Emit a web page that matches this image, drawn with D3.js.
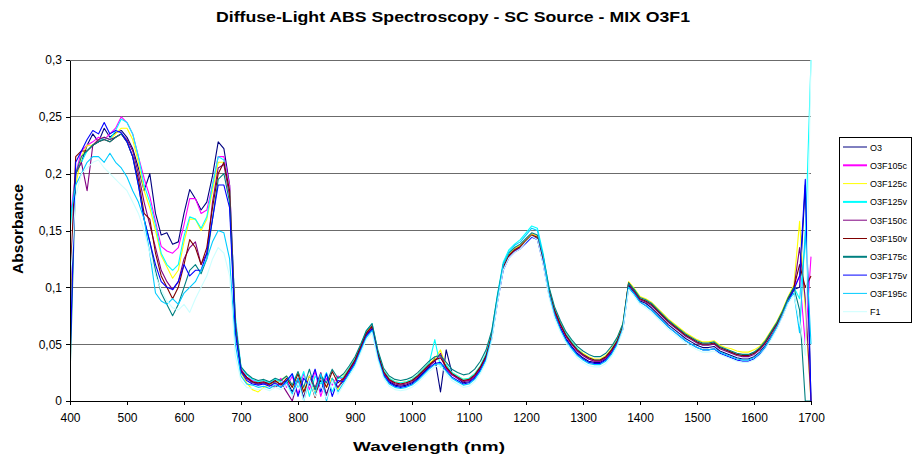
<!DOCTYPE html>
<html>
<head>
<meta charset="utf-8">
<script src="https://cdn.jsdelivr.net/npm/d3@7"></script>
<style>
  body { margin: 0; background: #fff; }
  svg { display: block; font-family: Arial, "Liberation Sans", sans-serif; }
</style>
</head>
<body>
<div id="chart"></div>
<script>
// wavelength grid (nm)
const wavelengths = [
  400,410,420,430,440,450,460,470,480,490,500,510,520,530,540,550,560,570,580,590,
  600,610,620,630,640,650,660,670,680,690,700,710,720,730,740,750,760,770,780,790,
  800,810,820,830,840,850,860,870,880,890,900,910,920,930,940,950,960,970,980,990,
  1000,1010,1020,1030,1040,1050,1060,1070,1080,1090,1100,1110,1120,1130,1140,1150,1160,1170,1180,1190,
  1200,1210,1220,1230,1240,1250,1260,1270,1280,1290,1300,1310,1320,1330,1340,1350,1360,1370,1380,1390,
  1400,1410,1420,1430,1440,1450,1460,1470,1480,1490,1500,1510,1520,1530,1540,1550,1560,1570,1580,1590,
  1600,1610,1620,1630,1640,1650,1660,1670,1680,1690,1700
];

const O3 = [
  .08,.2,.21,.225,.235,.228,.24,.232,.236,.238, .232,.222,.205,.185,.2,.165,.146,.148,.138,.14,
  .165,.186,.178,.168,.175,.198,.228,.222,.19,.07,
  .028,.02,.017,.015,.016,.014,.017,.015,.018,.008, .02,.003,.022,.01,.018,.006,.02,.012,.018,.026,
  .034,.046,.058,.064,.04,.024,.017,.014,.013,.014, .016,.02,.025,.03,.038,.008,.045,.025,.02,.016,
  .017,.021,.028,.038,.056,.088,.116,.127,.132,.135, .14,.145,.143,.122,.095,.077,.065,.055,.048,.042,
  .038,.035,.034,.034,.037,.043,.051,.064,.102,.095, .088,.086,.082,.077,.072,.067,.063,.059,.055,.052,
  .049,.047,.047,.048,.044,.042,.04,.038,.037,.037, .039,.043,.049,.057,.065,.075,.087,.098,.1,.19,0
];
const O3F105c = [
  .16,.2,.22,.225,.228,.232,.23,.235,.24,.25, .245,.235,.215,.196,.18,.158,.136,.132,.13,.135,
  .155,.178,.178,.165,.168,.19,.215,.215,.19,.07,
  .028,.021,.018,.017,.016,.017,.015,.02,.012,.022, .006,.024,.01,.026,.004,.02,.014,.022,.018,.027,
  .035,.047,.06,.067,.043,.025,.018,.016,.015,.016, .018,.022,.027,.032,.035,.04,.028,.023,.02,.018,
  .018,.022,.029,.039,.057,.09,.118,.128,.134,.137, .142,.147,.145,.124,.097,.079,.067,.057,.05,.044,
  .04,.037,.035,.035,.038,.044,.053,.066,.104,.097, .09,.088,.085,.08,.075,.07,.066,.062,.058,.055,
  .052,.05,.05,.051,.047,.045,.043,.041,.04,.04, .042,.046,.052,.06,.068,.078,.09,.1,.11,.05,.127
];
const O3F125c = [
  .08,.19,.215,.225,.225,.23,.232,.23,.235,.24, .24,.23,.21,.185,.17,.15,.128,.118,.108,.115,
  .14,.16,.16,.15,.16,.185,.21,.21,.185,.07,
  .025,.016,.01,.008,.012,.014,.016,.018,.022,.012, .025,.008,.022,.006,.024,.012,.02,.01,.022,.029,
  .037,.049,.061,.066,.043,.027,.02,.017,.016,.017, .019,.023,.028,.033,.037,.045,.03,.025,.022,.019,
  .02,.024,.031,.041,.059,.091,.119,.129,.134,.137, .142,.147,.145,.126,.099,.081,.069,.059,.052,.046,
  .042,.039,.037,.037,.04,.046,.055,.068,.105,.099, .092,.09,.087,.082,.077,.072,.068,.064,.06,.057,
  .054,.052,.052,.053,.049,.047,.046,.044,.043,.043, .045,.048,.054,.062,.07,.08,.092,.102,.158,.08,0
];
const O3F125v = [
  .15,.2,.21,.22,.225,.228,.232,.23,.238,.248, .245,.235,.215,.19,.175,.155,.13,.12,.115,.12,
  .145,.162,.16,.152,.162,.19,.215,.212,.185,.075,
  .03,.023,.019,.017,.018,.016,.019,.017,.016,.024, .012,.026,.004,.022,.015,.025,.008,.02,.021,.029,
  .037,.049,.062,.068,.044,.027,.02,.017,.016,.017, .019,.023,.028,.033,.054,.03,.032,.025,.022,.019,
  .02,.024,.031,.042,.061,.094,.122,.133,.138,.142, .148,.154,.152,.13,.1,.081,.069,.059,.052,.046,
  .041,.038,.036,.036,.039,.045,.054,.067,.103,.098, .09,.088,.085,.08,.075,.07,.066,.062,.058,.055,
  .052,.05,.05,.051,.047,.045,.043,.041,.04,.04, .042,.046,.052,.06,.068,.078,.09,.1,.09,.14,.3
];
const O3F150c = [
  .09,.2,.21,.185,.225,.23,.232,.23,.232,.235, .23,.22,.2,.175,.155,.135,.115,.105,.098,.105,
  .125,.135,.14,.12,.13,.175,.205,.208,.18,.07,
  .026,.02,.016,.015,.016,.014,.012,.016,.008,0, .018,.002,.02,.012,.025,.005,.018,.012,.019,.027,
  .035,.047,.059,.065,.041,.025,.018,.015,.014,.015, .017,.021,.026,.031,.035,.042,.029,.023,.02,.017,
  .018,.022,.029,.039,.057,.089,.117,.127,.132,.135, .14,.145,.143,.124,.097,.079,.067,.057,.05,.044,
  .04,.037,.035,.035,.038,.044,.052,.065,.103,.096, .089,.087,.084,.079,.074,.069,.065,.061,.057,.054,
  .051,.049,.049,.05,.046,.044,.042,.04,.039,.039, .041,.045,.051,.059,.067,.077,.089,.099,.135,.09,0
];
const O3F150v = [
  .1,.215,.22,.22,.225,.228,.23,.228,.232,.235, .228,.215,.195,.165,.16,.13,.11,.1,.09,.1,
  .12,.142,.135,.12,.135,.17,.2,.21,.185,.065,
  .027,.021,.017,.016,.017,.015,.018,.014,.02,.012, .024,.008,.02,.003,.022,.012,.026,.016,.02,.028,
  .036,.048,.06,.066,.042,.026,.019,.016,.015,.016, .018,.022,.027,.032,.036,.038,.03,.024,.021,.018,
  .019,.023,.03,.04,.058,.09,.118,.128,.133,.136, .141,.146,.144,.125,.098,.08,.068,.058,.051,.045,
  .041,.038,.036,.036,.039,.045,.053,.066,.104,.097, .09,.088,.085,.08,.075,.07,.066,.062,.058,.055,
  .052,.05,.05,.051,.047,.045,.043,.041,.04,.04, .042,.046,.052,.06,.068,.078,.09,.1,.12,.1,.11
];
const O3F175c = [
  .02,.2,.215,.22,.225,.228,.23,.228,.232,.235, .228,.215,.19,.16,.14,.115,.095,.085,.075,.085,
  .1,.115,.12,.112,.125,.16,.195,.2,.175,.065,
  .03,.024,.02,.018,.019,.017,.02,.018,.022,.014, .026,.012,.028,.01,.022,.016,.028,.02,.024,.031,
  .039,.05,.062,.068,.045,.029,.022,.019,.018,.019, .021,.025,.03,.035,.039,.04,.034,.028,.025,.023,
  .024,.028,.035,.045,.062,.093,.12,.13,.135,.138, .143,.148,.146,.128,.101,.083,.071,.061,.054,.048,
  .044,.041,.039,.039,.042,.048,.056,.068,.104,.098, .091,.089,.086,.081,.076,.071,.067,.063,.059,.056,
  .053,.051,.051,.052,.048,.046,.044,.042,.041,.041, .043,.047,.053,.061,.069,.079,.091,.1,.08,0,0
];
const O3F175v = [
  .035,.21,.22,.23,.238,.235,.245,.235,.238,.236, .228,.215,.19,.16,.14,.12,.105,.1,.098,.105,
  .12,.11,.115,.115,.13,.16,.19,.19,.17,.06,
  .026,.018,.015,.014,.015,.013,.016,.012,.018,.024, .004,.02,.014,.028,.008,.024,.004,.018,.017,.025,
  .033,.045,.057,.063,.039,.023,.016,.013,.012,.013, .015,.019,.024,.029,.033,.034,.027,.021,.018,.015,
  .016,.02,.027,.037,.055,.087,.115,.126,.131,.134, .139,.144,.142,.121,.094,.076,.064,.054,.047,.041,
  .037,.034,.033,.033,.036,.042,.05,.063,.1,.094, .087,.084,.08,.075,.07,.065,.061,.057,.053,.05,
  .047,.045,.045,.046,.042,.04,.038,.036,.035,.035, .037,.041,.047,.055,.064,.075,.088,.098,.11,.195,0
];
const O3F195c = [
  .16,.19,.2,.21,.215,.215,.21,.218,.21,.205, .197,.185,.175,.16,.13,.095,.088,.085,.09,.085,
  .095,.1,.105,.115,.125,.14,.15,.148,.125,.05,
  .022,.015,.014,.012,.013,.011,.014,.012,.016,.006, .02,0,.018,.006,.024,0,.02,.008,.016,.024,
  .032,.044,.056,.062,.038,.022,.015,.012,.011,.012, .014,.018,.023,.028,.032,.033,.026,.02,.017,.014,
  .015,.019,.026,.036,.056,.09,.12,.131,.137,.14, .146,.152,.15,.128,.096,.076,.063,.053,.046,.04,
  .036,.033,.032,.032,.035,.041,.05,.064,.1,.094, .087,.084,.08,.075,.07,.065,.061,.057,.053,.05,
  .047,.045,.045,.046,.043,.041,.039,.037,.036,.036, .038,.042,.048,.056,.065,.076,.088,.095,.06,.15,.05
];
const F1 = [
  .1,.18,.2,.205,.21,.212,.205,.2,.195,.19, .185,.175,.165,.15,.13,.11,.098,.088,.082,.08,
  .085,.078,.09,.1,.11,.125,.135,.13,.11,.04,
  .018,.012,.011,.01,.011,.009,.012,.01,.014,.004, .016,0,.02,.004,.014,.002,.018,.006,.014,.022,
  .03,.042,.054,.06,.036,.02,.013,.01,.009,.01, .012,.016,.021,.026,.03,.031,.024,.018,.015,.012,
  .013,.017,.024,.034,.053,.086,.115,.126,.131,.134, .14,.145,.142,.12,.092,.073,.061,.051,.044,.038,
  .034,.031,.03,.03,.033,.039,.048,.062,.098,.092, .085,.082,.078,.073,.068,.063,.059,.055,.051,.048,
  .045,.043,.043,.044,.041,.039,.037,.035,.034,.034, .036,.04,.046,.054,.063,.074,.086,.093,.07,.04,.3
];

const seriesNames = ["O3", "O3F105c", "O3F125c", "O3F125v", "O3F150c", "O3F150v", "O3F175c", "O3F175v", "O3F195c", "F1"];
const seriesValues = [O3, O3F105c, O3F125c, O3F125v, O3F150c, O3F150v, O3F175c, O3F175v, O3F195c, F1];
const seriesColors = ["#000080", "#ff00ff", "#ffff00", "#00ffff", "#800080", "#800000", "#008080", "#0000ff", "#00ccff", "#ccffff"];
const yTicks = [0, 0.05, 0.1, 0.15, 0.2, 0.25, 0.3];
const xTicks = [400, 500, 600, 700, 800, 900, 1000, 1100, 1200, 1300, 1400, 1500, 1600, 1700];

const W = 916, H = 459;
let margin = { top: 60, right: 105, bottom: 58, left: 70 };

const svg = d3.select("#chart").append("svg")
    .attr("width", W)
    .attr("height", H);

const x = d3.scaleLinear().domain([400, 1700]).range([margin.left, W - margin.right]);
const y = d3.scaleLinear().domain([0, 0.3]).range([H - margin.bottom, margin.top]);

// title
svg.append("text")
    .attr("x", 453).attr("y", 22)
    .attr("text-anchor", "middle")
    .attr("font-size", 15).attr("font-weight", "bold")
    .attr("textLength", 474).attr("lengthAdjust", "spacingAndGlyphs")
    .text("Diffuse-Light ABS Spectroscopy - SC Source - MIX O3F1");

// gridlines
svg.append("g")
    .selectAll("line")
    .data(yTicks.filter(d => d > 0))
    .enter().append("line")
    .attr("x1", x(400)).attr("x2", x(1700))
    .attr("y1", d => y(d)).attr("y2", d => y(d))
    .attr("stroke", "#6b6b6b")
    .attr("stroke-width", 1)
    .attr("shape-rendering", "crispEdges");

// clip for the plot area
svg.append("clipPath").attr("id", "plot-clip")
    .append("rect")
    .attr("x", x(400)).attr("y", y(0.3) - 1)
    .attr("width", x(1700) - x(400) + 2)
    .attr("height", y(0) - y(0.3) + 1);

const line = d3.line()
    .x((d, i) => x(wavelengths[i]))
    .y(d => y(d));

svg.append("g")
    .attr("clip-path", "url(#plot-clip)")
    .selectAll("path")
    .data(seriesValues)
    .enter().append("path")
    .attr("fill", "none")
    .attr("stroke", (d, i) => seriesColors[i])
    .attr("stroke-width", 1.1)
    .attr("stroke-linejoin", "round")
    .attr("d", line);

// axes
const fmt = d => d3.format(".2~f")(d).replace(".", ",");
const yAxis = svg.append("g")
    .attr("transform", `translate(${x(400)},0)`)
    .call(d3.axisLeft(y).tickValues(yTicks).tickFormat(fmt).tickSize(4).tickSizeOuter(0).tickPadding(4));
const xAxis = svg.append("g")
    .attr("transform", `translate(0,${y(0)})`)
    .call(d3.axisBottom(x).tickValues(xTicks).tickFormat(d3.format("d")).tickSize(4).tickSizeOuter(0).tickPadding(8));
[yAxis, xAxis].forEach(a => {
    a.selectAll("text").attr("font-size", 12).attr("fill", "#000").attr("font-family", "Arial, 'Liberation Sans', sans-serif");
    a.selectAll("line,path").attr("stroke", "#000").attr("shape-rendering", "crispEdges");
});

// axis titles
svg.append("text")
    .attr("transform", `translate(23,229) rotate(-90)`)
    .attr("text-anchor", "middle")
    .attr("font-size", 14).attr("font-weight", "bold")
    .attr("textLength", 90).attr("lengthAdjust", "spacingAndGlyphs")
    .text("Absorbance");
svg.append("text")
    .attr("x", 429).attr("y", 451)
    .attr("text-anchor", "middle")
    .attr("font-size", 13).attr("font-weight", "bold")
    .attr("textLength", 152).attr("lengthAdjust", "spacingAndGlyphs")
    .text("Wavelength (nm)");

// legend
const legend = svg.append("g").attr("transform", "translate(839,137)");
legend.append("rect")
    .attr("width", 72).attr("height", 185)
    .attr("fill", "#fff").attr("stroke", "#000")
    .attr("shape-rendering", "crispEdges");
const items = legend.selectAll("g.item")
    .data(seriesNames)
    .enter().append("g")
    .attr("class", "item")
    .attr("transform", (d, i) => `translate(0,${10 + i * 18.3})`);
items.append("line")
    .attr("x1", 4).attr("x2", 28)
    .attr("stroke", (d, i) => seriesColors[i])
    .attr("stroke-width", (d, i) => [1, 3, 6].includes(i) ? 2 : 1);
items.append("text")
    .attr("x", 31).attr("y", 3.5)
    .attr("font-size", 9)
    .text(d => d);
</script>
</body>
</html>
